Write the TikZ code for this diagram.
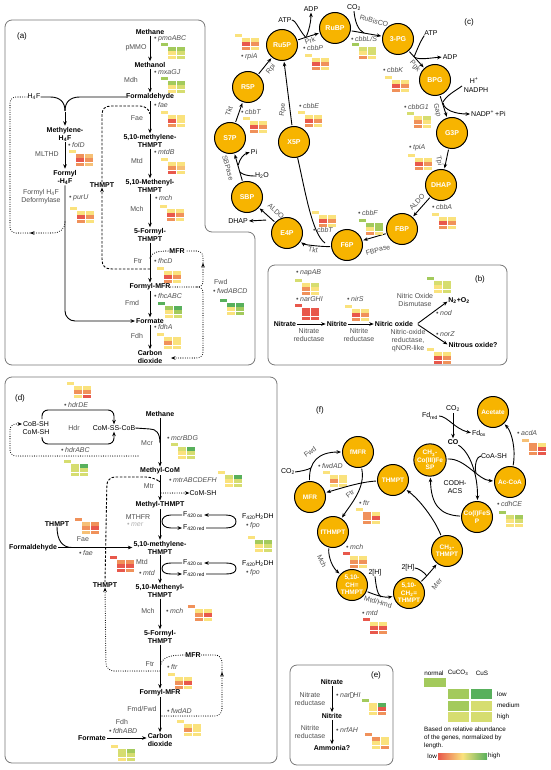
\documentclass[tikz,border=0pt]{standalone}
\usepackage{fontspec}
\setmainfont{Liberation Sans}
\usetikzlibrary{arrows.meta}
\definecolor{cOr}{RGB}{247,180,0}
\definecolor{hR}{RGB}{232,88,76}
\definecolor{hO}{RGB}{240,145,90}
\definecolor{hP}{RGB}{246,192,118}
\definecolor{hY}{RGB}{250,226,125}
\definecolor{hL}{RGB}{214,221,112}
\definecolor{hG}{RGB}{163,202,92}
\definecolor{hD}{RGB}{88,176,92}
\definecolor{pnl}{RGB}{120,120,120}
\definecolor{gtx}{RGB}{80,80,80}
\newcommand\hm[8]{%
  \begin{scope}[shift={(#1)}]
    \fill[#2] (0,0) rectangle (6.5,2.8);
    \fill[#3] (7,4) rectangle (15.2,7.8);
    \fill[#4] (15.8,4) rectangle (24,7.8);
    \fill[#5] (7,8.3) rectangle (15.2,12.1);
    \fill[#6] (15.8,8.3) rectangle (24,12.1);
    \fill[#7] (7,12.6) rectangle (15.2,16.4);
    \fill[#8] (15.8,12.6) rectangle (24,16.4);
  \end{scope}}
\newcommand\gb{\textbullet\hspace{1.5pt}}
\newcommand\sbs[1]{\textsubscript{#1}}
\newcommand\sps[1]{\textsuperscript{#1}}
\newcommand\mg{{\setlength\fboxsep{0pt}\setlength\fboxrule{0.3pt}\color{black!40}\fbox{\rule{0pt}{4.5pt}\hspace{2.6pt}}}}
\begin{document}
\begin{tikzpicture}[x=1pt,y=-1pt,
  lab/.style={inner sep=0pt, font=\fontsize{7}{8}\selectfont, align=center},
  met/.style={lab, font=\fontsize{7}{8}\selectfont\bfseries},
  enz/.style={lab, text=gtx},
  gen/.style={lab, anchor=west, text=gtx, font=\fontsize{7}{8}\selectfont\itshape},
  plab/.style={lab, font=\fontsize{8}{9}\selectfont},
  arr/.style={line width=0.9pt, shorten <=1pt, shorten >=1pt, -{Stealth[length=4.5pt,width=3.6pt]}},
  tip/.style={-{Stealth[length=4.5pt,width=3.6pt]}},
  ln/.style={line width=0.9pt},
  dotl/.style={line width=1.1pt, line cap=round, dash pattern=on 0pt off 2.3pt},
  dashl/.style={line width=0.9pt, dash pattern=on 2.5pt off 1.6pt},
  circ/.style={circle, draw=black, line width=1pt, fill=cOr, minimum size=31pt, inner sep=0pt, text=white, font=\fontsize{7}{7.5}\selectfont\bfseries, align=center},
  circf/.style={circ, font=\fontsize{6.5}{7.3}\selectfont\bfseries},
  pbox/.style={draw=pnl, line width=0.8pt, rounded corners=7pt},
  leg/.style={lab, font=\fontsize{6.3}{7.8}\selectfont},
]
\fill[white] (0,0) rectangle (550,770);
\useasboundingbox (0,0) rectangle (550,770);

% ================= panel (a)
\draw[pbox] (5,20) -- (205,20) -- (205,232) -- (255,232) -- (255,365) -- (5,365) -- cycle;
\node[plab] (aL) at (22,36) {(a)};
\node[met] (aMethane) at (150,32) {Methane};
\node[gen] (aG1) at (154,39) {\gb pmoABC};
\node[enz] (aE1) at (136,48) {pMMO};
\hm{161,43}{hG}{hG}{hG}{hY}{hL}{hY}{hL}
\node[met] (aMethanol) at (150,65) {Methanol};
\node[gen] (aG2) at (154,72) {\gb mxaGJ};
\node[enz] (aE2) at (131,80) {Mdh};
\hm{161,77}{hG}{hG}{hG}{hY}{hL}{hY}{hL}
\node[met] (aForm) at (150,97) {Formaldehyde};
\node[lab] (aH4F) at (34,97) {H\sbs4F};
\node[gen] (aG3) at (154,105) {\gb fae};
\node[enz] (aE3) at (137,118) {Fae};
\hm{161,111}{hY}{hY}{hY}{hR}{hY}{hO}{hY}
\node[met] (aMethylene) at (150,141) {5,10-methylene-\\THMPT};
\node[gen] (aG4) at (154,152) {\gb mtdB};
\node[enz] (aE4) at (137,161) {Mtd};
\hm{161,158}{hY}{hY}{hY}{hO}{hP}{hR}{hY}
\node[met] (aMethenyl) at (150,186) {5,10-Methenyl-\\THMPT};
\node[gen] (aG5) at (155,198) {\gb mch};
\node[enz] (aE5) at (137,209) {Mch};
\hm{160,205}{hY}{hY}{hY}{hR}{hO}{hO}{hY}
\node[met] (aFormylT) at (150,235) {5-Formyl-\\THMPT};
\node[enz] (aE6) at (138,261) {Ftr};
\node[gen] (aG6) at (154,261) {\gb fhcD};
\hm{157,267}{hY}{hY}{hY}{hR}{hO}{hO}{hY}
\node[met] (aMFR) at (177,251) {MFR};
\node[met] (aFormylMFR) at (150,287) {Formyl-MFR};
\node[gen] (aG7) at (154,296) {\gb fhcABC};
\node[enz] (aE7) at (132,303) {Fmd};
\hm{158,302}{hD}{hG}{hD}{hY}{hG}{hY}{hL}
\node[met] (aFormate) at (150,321) {Formate};
\node[gen] (aG8) at (154,327) {\gb fdhA};
\node[enz] (aE8) at (137,336) {Fdh};
\hm{157,333}{hY}{hY}{hY}{hO}{hY}{hY}{hY}
\node[met] (aCO2) at (150,357) {Carbon\\dioxide};
\node[enz,anchor=west] (aE9) at (214,282) {Fwd};
\node[gen] (aG9) at (213,291) {\gb fwdABCD};
\hm{220,299}{hD}{hD}{hD}{hY}{hG}{hY}{hG}
\node[met] (aTHMPT) at (102,185) {THMPT};
\node[met] (aMethyleneH) at (65,134) {Methylene-\\H\sbs4F};
\node[gen] (aG10) at (68,145) {\gb folD};
\node[enz] (aE10) at (47,154) {MLTHD};
\hm{69,150}{hY}{hO}{hP}{hR}{hO}{hO}{hP}
\node[met] (aFormylH) at (65,177) {Formyl\\-H\sbs4F};
\node[enz] (aE11) at (41,197) {Formyl H\sbs4F\\Deformylase};
\node[gen] (aG11) at (69,198) {\gb purU};
\hm{70,207}{hY}{hY}{hY}{hR}{hO}{hO}{hY}

\draw[arr] (aMethane) -- (aMethanol);
\draw[arr] (aMethanol) -- (aForm);
\draw[arr] (aForm) -- (aMethylene);
\draw[arr] (aMethylene) -- (aMethenyl);
\draw[arr] (aMethenyl) -- (aFormylT);
\draw[arr] (aFormylT) -- (aFormylMFR);
\draw[arr] (aFormylMFR) -- (aFormate);
\draw[arr] (aFormate) -- (aCO2);
\coordinate (aJ) at (65,111);
\draw[ln] (aH4F.east) -- (50,97) .. controls (60,97) and (65,102) .. (aJ);
\draw[ln] (aForm.west) -- (80,97) .. controls (70,97) and (65,102) .. (aJ);
\draw[arr] (aJ) -- (aMethyleneH);
\draw[arr] (aMethyleneH) -- (aFormylH);
\draw[arr, rounded corners=10pt] (aFormylH.south) |- (aFormate.west);
\coordinate (aD1) at (65,222);
\coordinate (aD2) at (30,233);
\draw[dotl, tip] (aD1) .. controls (65,229) and (60,233) .. (52,233) -- (aD2);
\draw[dotl, rounded corners=6pt] (aD2) -- (10,233) -- (10,97) -- (aH4F.west);
\coordinate (aFaeM) at (150,114);
\draw[dashl] (aTHMPT.north) -- (102,115) .. controls (102,109) and (105,106) .. (111,106) -- (140,106) .. controls (145,106) and (149,109) .. (aFaeM);
\coordinate (aFtrM) at (150,269);
\draw[dashl, tip] (aFtrM) -- (112,269) .. controls (105,269) and (102,266) .. (102,259) -- (aTHMPT.south);
\coordinate (aFtrM2) at (150,258);
\draw[dotl] (aFtrM2) .. controls (152,252) and (158,251) .. (aMFR.west);
\coordinate (aS) at (197,287);
\draw[dotl] (aFormylMFR.east) -- (aS);
\draw[dotl, tip] (aS) .. controls (201,287) and (203,285) .. (203,281) -- (203,263);
\draw[dotl] (203,263) -- (203,257) .. controls (203,253) and (200,251) .. (196,251) -- (aMFR.east);
\coordinate (aCO2e) at (171,358);
\draw[dotl, tip] (aS) .. controls (201,287) and (203,289) .. (203,293) -- (203,352) .. controls (203,356) and (200,358) .. (196,358) -- (aCO2e);

% ================= panel (c)
\node[plab] (cL) at (469,22) {(c)};
\node[circ] (cRuBP) at (335,28) {RuBP};
\node[circ] (c3PG) at (398,39) {3-PG};
\node[circ] (cBPG) at (435,80) {BPG};
\node[circ] (cG3P) at (452,133) {G3P};
\node[circ] (cDHAP) at (441,185) {DHAP};
\node[circ] (cFBP) at (402,229) {FBP};
\node[circ] (cF6P) at (347,245) {F6P};
\node[circ] (cE4P) at (287,233) {E4P};
\node[circ] (cSBP) at (247,197) {SBP};
\node[circ] (cS7P) at (230,138) {S7P};
\node[circ] (cR5P) at (248,87) {R5P};
\node[circ] (cRu5P) at (282,45) {Ru5P};
\node[circ] (cX5P) at (294,142) {X5P};
\draw[arr] (cRu5P) -- (cRuBP);
\draw[arr] (cRuBP) -- (c3PG);
\draw[arr] (c3PG) -- (cBPG);
\draw[arr] (cBPG) -- (cG3P);
\draw[arr] (cG3P) -- (cDHAP);
\draw[arr] (cDHAP) -- (cFBP);
\draw[arr] (cFBP) -- (cF6P);
\draw[arr] (cF6P) .. controls (325,247) and (305,245) .. (cE4P);
\draw[arr] (cE4P) -- (cSBP);
\draw[arr] (cSBP) -- (cS7P);
\draw[arr] (cS7P) -- (cR5P);
\draw[arr] (cR5P) -- (cRu5P);
\draw[arr] (cX5P) -- (cRu5P);
\coordinate (cTktM) at (325,243);
\draw[ln] (cX5P) .. controls (305,190) and (312,234) .. (cTktM);
\node[lab] (cATP) at (285,20) {ATP};
\node[lab] (cADP) at (311,9) {ADP};
\coordinate (cPrkM) at (306,37.5);
\draw[ln] (cATP.east) .. controls (296,20) and (300,32) .. (cPrkM);
\draw[arr] (cPrkM) .. controls (309,30) and (311,22) .. (cADP.south);
\node[enz, rotate=20] (cE1) at (310,40.5) {Prk};
\node[lab] (cCO2) at (354,8) {CO\sbs2};
\coordinate (cRubM) at (364,33);
\draw[ln] (cCO2.south) .. controls (355,22) and (358,30) .. (cRubM);
\node[enz, rotate=-15] (cE2) at (374,21) {RuBisCO};
\node[lab] (cATP2) at (431,33) {ATP};
\node[lab] (cADP2) at (450,57) {ADP};
\coordinate (cPgkM) at (414,57);
\draw[ln] (cATP2.south west) .. controls (420,42) and (417,50) .. (cPgkM);
\draw[arr] (cPgkM) .. controls (420,60) and (430,58) .. (cADP2.west);
\node[enz, rotate=-50] (cE3) at (415,66) {Pgk};
\node[lab] (cH) at (474,81) {H\sps+};
\node[lab] (cNADPH) at (476,90) {NADPH};
\node[lab, anchor=west] (cNADP) at (471,114) {NADP\sps+\,+Pi};
\coordinate (cNADPs) at (462,86);
\coordinate (cGapM) at (443,102);
\draw[ln] (cNADPs) .. controls (455,91) and (447,95) .. (cGapM);
\draw[arr] (cGapM) .. controls (444,110) and (455,114) .. (cNADP.west);
\node[enz, rotate=-75] (cE4) at (437,110) {Gap};
\node[enz, rotate=-80] (cE5) at (439,161) {Tpi};
\node[enz, rotate=48] (cE6) at (417,202) {ALDO};
\node[enz, rotate=15] (cE7) at (378,250) {FBPase};
\node[enz, rotate=-8] (cE8) at (313,250) {Tkt};
\node[enz, rotate=-42] (cE9) at (276,211) {ALDO};
\node[lab] (cDHAP2) at (238,221) {DHAP};
\coordinate (cAldM) at (267,220);
\draw[arr] (cAldM) -- (cDHAP2.east);
\node[enz, rotate=-74] (cE10) at (228,168) {SBPase};
\node[lab] (cPi) at (254,152) {Pi};
\node[lab] (cH2O) at (262,176) {H\sbs2O};
\coordinate (cSbpM) at (238,166);
\coordinate (cSbpM2) at (240,172);
\draw[arr] (cSbpM) .. controls (240,158) and (244,154) .. (cPi.west);
\draw[ln] (cH2O.west) .. controls (246,176) and (242,174) .. (cSbpM2);
\node[enz, rotate=70] (cE11) at (229,111) {Tkt};
\node[enz, rotate=51] (cE12) at (271,69) {Rpi};
\node[enz, rotate=83] (cE13) at (283,110) {Rpe};
\node[gen] (cG1) at (241,57) {\gb rpiA};
\hm{235,34}{hY}{hY}{hY}{hR}{hO}{hO}{hY}
\node[gen] (cG2) at (303,48.5) {\gb cbbP};
\hm{305,54}{hY}{hY}{hY}{hR}{hO}{hO}{hY}
\node[gen] (cG3) at (351,39) {\gb cbbL/S};
\hm{352,43}{hG}{hL}{hL}{hY}{hL}{hO}{hY}
\node[gen] (cG4) at (383,70) {\gb cbbK};
\hm{385,76}{hY}{hY}{hY}{hR}{hO}{hO}{hY}
\node[gen] (cG5) at (404,107) {\gb cbbG1};
\hm{407,112}{hL}{hY}{hL}{hO}{hY}{hO}{hY}
\node[gen] (cG6) at (409,148) {\gb tpiA};
\hm{408,154}{hY}{hY}{hY}{hR}{hO}{hO}{hY}
\node[gen] (cG7) at (432,207) {\gb cbbA};
\hm{432,213}{hY}{hY}{hY}{hR}{hO}{hO}{hY}
\node[gen] (cG8) at (358,213) {\gb cbbF};
\hm{359,219}{hG}{hG}{hG}{hY}{hG}{hO}{hY}
\node[gen] (cG9) at (313,230) {\gb cbbT};
\hm{312,211}{hY}{hY}{hY}{hR}{hO}{hO}{hY}
\node[gen] (cG10) at (299,106) {\gb cbbE};
\hm{298,111}{hY}{hY}{hY}{hR}{hO}{hO}{hY}
\node[gen] (cG11) at (241,112) {\gb cbbT};
\hm{243,117}{hY}{hY}{hY}{hR}{hO}{hO}{hY}

% ================= panel (b)
\draw[pbox] (268,265) rectangle (507,365);
\node[plab] (bL) at (480,279) {(b)};
\node[met] (bNitrate) at (285,324) {Nitrate};
\node[met] (bNitrite) at (337,324) {Nitrite};
\node[met] (bNO) at (394,324) {Nitric oxide};
\node[met] (bN2) at (459,301) {N\sbs2+O\sbs2};
\node[met] (bN2O) at (473,345) {Nitrous oxide?};
\draw[arr] (bNitrate) -- (bNitrite);
\draw[arr] (bNitrite) -- (bNO);
\coordinate (bSp) at (417,324);
\draw[arr] (bSp) -- (bN2.west);
\draw[arr] (bSp) -- (bN2O.west);
\node[enz] (bE1) at (309,335) {Nitrate\\reductase};
\node[enz] (bE2) at (359,335) {Nitrite\\reductase};
\node[enz] (bE3) at (415,300) {Nitric Oxide\\Dismutase};
\node[enz] (bE4) at (408,341) {Nitric-oxide\\reductase,\\qNOR-like};
\node[gen] (bG1) at (296,273) {\gb napAB};
\hm{295,279}{hL}{hY}{hL}{hO}{hY}{hO}{hY}
\node[gen] (bG2) at (296,299) {\gb narGHI};
\hm{295,304}{hR}{hR}{hR}{hR}{hR}{hR}{hR}
\node[gen] (bG3) at (347,299) {\gb nirS};
\hm{345,305}{hY}{hY}{hY}{hR}{hO}{hO}{hY}
\node[gen] (bG4) at (436,313) {\gb nod};
\hm{427,277}{hG}{hL}{hL}{hY}{hL}{hY}{hL}
\node[gen] (bG5) at (436,334) {\gb norZ};
\hm{427,348}{hY}{hY}{hY}{hR}{hO}{hR}{hO}

% ================= panel (d)
\draw[pbox] (5,377) rectangle (277,763);
\node[plab] (dL) at (20,398) {(d)};
\hm{67,382}{hY}{hY}{hY}{hO}{hO}{hY}{hR}
\node[gen] (dG1) at (64,405) {\gb hdrDE};
\node[lab] (dCoB) at (36,428) {CoB-SH\\CoM-SH};
\node[enz] (dHdr) at (74,428) {Hdr};
\node[lab] (dCoMSS) at (114,428) {CoM-SS-CoB};
\coordinate (dLA) at (42,420);
\coordinate (dLB) at (42,436);
\draw[arr, rounded corners=6pt] (dLA) -- (42,410) -- (114,410) -- (dCoMSS.north);
\draw[arr, rounded corners=6pt] (dLB) -- (42,444) -- (114,444) -- (dCoMSS.south);
\node[gen] (dG2) at (61,450) {\gb hdrABC};
\hm{64,460}{hL}{hL}{hD}{hL}{hL}{hL}{hL}
\coordinate (dDS) at (138,456);
\coordinate (dCoBw) at (22,424);
\draw[dotl, tip, rounded corners=6pt] (dDS) -- (10,456) -- (10,424) -- (dCoBw);
\node[met] (dMethane) at (160,414) {Methane};
\coordinate (dMcrM) at (160,443);
\draw[ln] (dCoMSS.east) -- (150,429) .. controls (156,429) and (160,433) .. (dMcrM);
\node[enz] (dE1) at (147,443) {Mcr};
\node[gen] (dG3) at (167,438) {\gb mcrBDG};
\hm{171,443}{hL}{hL}{hD}{hY}{hL}{hY}{hL}
\node[met] (dMethylCoM) at (160,471) {Methyl-CoM};
\draw[arr] (dMethane) -- (dMethylCoM);
\node[gen] (dG4) at (169,480) {\gb mtrABCDEFH};
\hm{218,471}{hY}{hL}{hD}{hY}{hL}{hY}{hL}
\node[enz] (dE2) at (149,486) {Mtr};
\coordinate (dMtrM) at (161,493);
\node[lab] (dCoMSH) at (203,493) {CoM-SH};
\draw[dotl, tip] (dMtrM) -- (dCoMSH.west);
\node[met] (dMethylTHMPT) at (160,505) {Methyl-THMPT};
\draw[arr] (dMethylCoM) -- (dMethylTHMPT);
\node[enz] (dE3) at (138,517) {MTHFR};
\node[gen, text=black!30] (dG5) at (127,525) {\gb mer};
\node[met] (dMethylene) at (160,547.5) {5,10-methylene-\\THMPT};
\draw[arr] (dMethylTHMPT) -- (dMethylene);
\node[lab, anchor=west] (dFox1) at (183,515) {F\sbs{420 ox}};
\node[lab, anchor=west] (dFred1) at (183,528) {F\sbs{420 red}};
\coordinate (dF1M) at (162,521.5);
\draw[arr] (dFox1.west) -- (171,515) .. controls (165,515) and (162,518) .. (dF1M) .. controls (162,525) and (165,528) .. (171,528) -- (dFred1.west);
\draw[arr] (dFred1.east) -- (226,528) .. controls (233,528) and (236,525) .. (236,521.5) .. controls (236,518) and (233,515) .. (226,515) -- (dFox1.east);
\node[lab] (dF1) at (258,517) {F\sbs{420}H\sbs2DH};
\node[gen] (dG6) at (246,526) {\gb fpo};
\hm{248,536}{hY}{hG}{hG}{hY}{hL}{hY}{hL}
\node[met] (dTHMPTl) at (57,524) {THMPT};
\node[met] (dForm) at (33,547.5) {Formaldehyde};
\draw[arr] (dForm.east) -- (dMethylene.west);
\coordinate (dFaeM) at (72,547.5);
\draw[ln] (dTHMPTl.south) .. controls (57,540) and (62,547.5) .. (dFaeM);
\node[enz] (dE4) at (83,539) {Fae};
\node[gen] (dG7) at (79,553) {\gb fae};
\hm{75,518}{hO}{hP}{hO}{hO}{hR}{hP}{hO}
\node[enz] (dE5) at (142,562) {Mtd};
\node[gen] (dG8) at (139,573) {\gb mtd};
\hm{110,556}{hR}{hO}{hO}{hR}{hR}{hR}{hO}
\node[lab, anchor=west] (dFox2) at (183,563) {F\sbs{420 ox}};
\node[lab, anchor=west] (dFred2) at (183,574) {F\sbs{420 red}};
\coordinate (dF2M) at (162,568.5);
\draw[arr] (dFox2.west) -- (171,563) .. controls (165,563) and (162,565) .. (dF2M) .. controls (162,572) and (165,574) .. (171,574) -- (dFred2.west);
\draw[arr] (dFred2.east) -- (226,574) .. controls (233,574) and (236,572) .. (236,568.5) .. controls (236,565) and (233,563) .. (226,563) -- (dFox2.east);
\node[lab] (dF2) at (258,564) {F\sbs{420}H\sbs2DH};
\node[gen] (dG9) at (246,573) {\gb fpo};
\node[met] (dMethenyl) at (160,591) {5,10-Methenyl-\\THMPT};
\draw[arr] (dMethylene) -- (dMethenyl);
\node[met] (dTHMPT2) at (105,585) {THMPT};
\coordinate (dMtrM2) at (159,481);
\draw[dashl, rounded corners=8pt] (dTHMPT2.north) -- (107,477) -- (154,477) -- (dMtrM2);
\node[enz] (dE6) at (148,611) {Mch};
\node[gen] (dG10) at (166,611) {\gb mch};
\hm{188,605}{hO}{hY}{hY}{hO}{hR}{hO}{hY}
\node[met] (dFormylT) at (160,637) {5-Formyl-\\THMPT};
\draw[arr] (dMethenyl) -- (dFormylT);
\node[enz] (dE7) at (150,664) {Ftr};
\node[gen] (dG11) at (167,667) {\gb ftr};
\hm{168,673}{hY}{hY}{hY}{hO}{hR}{hO}{hY}
\node[met] (dMFR) at (193,655) {MFR};
\node[met] (dFormylMFR) at (160,693) {Formyl-MFR};
\draw[arr] (dFormylT) -- (dFormylMFR);
\node[enz] (dE8) at (142,709) {Fmd/Fwd};
\node[gen] (dG12) at (167,711) {\gb fwdAD};
\hm{177,720}{hY}{hY}{hY}{hO}{hY}{hY}{hY}
\node[met] (dCO2) at (160,740) {Carbon\\dioxide};
\draw[arr] (dFormylMFR) -- (dCO2);
\node[met] (dFormate) at (92,738) {Formate};
\draw[arr] (dFormate.east) -- (dFormate.east -| dCO2.west);
\node[enz] (dE9) at (122,722) {Fdh};
\node[gen] (dG13) at (109,731) {\gb fdhABD};
\hm{111,745}{hY}{hL}{hG}{hL}{hL}{hY}{hL}
\coordinate (dFtrM) at (160,671);
\draw[dotl, tip, rounded corners=8pt] (dFtrM) -- (106,671) -- (dTHMPT2.south);
\coordinate (dFtrM2) at (161,664);
\draw[dotl] (dFtrM2) .. controls (163,657) and (170,655) .. (dMFR.west);
\coordinate (dFmdM) at (162,716);
\draw[dotl, tip, rounded corners=7pt] (dFmdM) -- (222,716) -- (222,672);
\draw[dotl, rounded corners=7pt] (222,672) -- (222,655) -- (dMFR.east);

% ================= panel (f)
\node[plab] (fL) at (320,410) {(f)};
\node[circf] (fFMFR) at (358,452) {fMFR};
\node[circf] (fMFR) at (310,497) {MFR};
\node[circf] (fTHMPT) at (393,480) {THMPT};
\node[circf] (ffTHMPT) at (333,532) {fTHMPT};
\node[circf] (fCH) at (352,585) {5,10-\\CH≡\\THMPT};
\node[circf] (fCH2) at (409,593) {5,10-\\CH\sbs2=\\THMPT};
\node[circf] (fCH3) at (447,551) {CH\sbs3-\\THMPT};
\node[circf] (fCoI) at (477,517) {Co(I)FeS\\P};
\node[circf] (fCoIII) at (430,460) {CH\sbs3-\\Co(III)Fe\\SP};
\node[circf] (fAcCoA) at (510,482) {Ac-CoA};
\node[circf] (fAcetate) at (493,412) {Acetate};
\draw[arr] (fMFR) .. controls (309,462) and (318,452) .. (fFMFR);
\node[lab] (fCO2) at (288,472) {CO\sbs2};
\coordinate (fFwdM) at (311,468);
\draw[ln] (fCO2.east) .. controls (302,471) and (307,470) .. (fFwdM);
\node[enz, rotate=35] (fE1) at (310,452) {Fwd};
\node[gen] (fG1) at (318,466) {\gb fwdAD};
\hm{323,471}{hY}{hY}{hY}{hO}{hY}{hY}{hY}
\draw[arr] (fFMFR) .. controls (366,488) and (350,505) .. (ffTHMPT);
\draw[arr] (fTHMPT) .. controls (360,482) and (342,488) .. (fMFR);
\node[enz, rotate=40] (fE2) at (350,494) {Ftr};
\node[gen] (fG2) at (359,503) {\gb ftr};
\hm{356,508}{hY}{hO}{hY}{hO}{hR}{hO}{hY}
\draw[arr] (ffTHMPT) .. controls (328,552) and (330,565) .. (fCH);
\node[enz, rotate=-65] (fE3) at (322,561) {Mch};
\node[gen] (fG3) at (346,547) {\gb mch};
\hm{343,552}{hR}{hY}{hY}{hO}{hO}{hO}{hY}
\draw[arr] (fCH) .. controls (375,595) and (385,598) .. (fCH2);
\node[lab] (f2H1) at (375,573) {2[H]};
\coordinate (fMtdM) at (381,597);
\draw[ln] (f2H1.south) .. controls (376,585) and (377,594) .. (fMtdM);
\node[enz, rotate=-15] (fE4) at (378,602) {Mtd/Hmd};
\node[gen] (fG4) at (362,613) {\gb mtd};
\hm{363,618}{hR}{hY}{hY}{hR}{hR}{hR}{hO}
\draw[arr] (fCH2) .. controls (425,578) and (432,570) .. (fCH3);
\node[lab] (f2H2) at (408,568) {2[H]};
\coordinate (fMerM) at (427,576);
\draw[ln] (f2H2.east) .. controls (418,568) and (424,572) .. (fMerM);
\node[enz, rotate=50] (fE5) at (437,584) {Mer};
\draw[arr] (fCH3) .. controls (435,520) and (420,500) .. (fTHMPT);
\draw[arr] (fCoI) .. controls (440,515) and (431,505) .. (fCoIII);
\draw[arr] (fCoIII) .. controls (465,458) and (478,480) .. (fAcCoA);
\node[lab] (fCoASH) at (494,456) {CoA-SH};
\coordinate (fAcM) at (476,473);
\draw[ln] (fCoASH.west) .. controls (477,456) and (474,465) .. (fAcM);
\node[met] (fCO) at (453,442) {CO};
\node[lab] (fCO2b) at (453,409) {CO\sbs2};
\node[lab] (fFdred) at (430,416) {Fd\sbs{red}};
\node[lab] (fFdox) at (479,433) {Fd\sbs{ox}};
\draw[arr] (fCO2b) -- (fCO);
\draw[arr] (fFdred.east) .. controls (447,416) and (455,429) .. (fFdox.west);
\draw[arr] (fCO) .. controls (470,452) and (478,475) .. (fCoI);
\node[lab] (fCODH) at (455,487) {CODH-\\ACS};
\draw[arr] (fAcCoA) .. controls (516,450) and (512,432) .. (fAcetate);
\node[gen] (fG5) at (517,433) {\gb acdA};
\hm{522,439}{hP}{hO}{hY}{hO}{hR}{hO}{hR}
\node[gen] (fG6) at (497,504) {\gb cdhCE};
\hm{499,511}{hG}{hL}{hG}{hY}{hL}{hY}{hY}

% ================= panel (e)
\draw[pbox] (290,665) rectangle (393,765);
\node[plab] (eL) at (376,675) {(e)};
\node[met] (eNitrate) at (332,682) {Nitrate};
\node[met] (eNitrite) at (332,716) {Nitrite};
\node[met] (eAmmonia) at (332,748) {Ammonia?};
\draw[arr] (eNitrate) -- (eNitrite);
\draw[arr] (eNitrite) -- (eAmmonia);
\node[enz] (eE1) at (310,699) {Nitrate\\reductase};
\node[enz] (eE2) at (310,732) {Nitrite\\reductase};
\node[gen] (eG1) at (336,695) {\gb nar\mg HI};
\hm{362,699}{hG}{hY}{hD}{hY}{hR}{hY}{hO}
\node[gen] (eG2) at (336,730) {\gb nrfAH};
\hm{365,733}{hO}{hO}{hY}{hY}{hY}{hY}{hO}

% ================= legend
\node[leg] (kN) at (434,673) {normal};
\node[leg] (kC) at (458,673) {CuCO\sbs3};
\node[leg] (kS) at (482,673) {CuS};
\fill[hG] (424,678) rectangle (446,687);
\fill[hG] (448,689) rectangle (469,699);
\fill[hD] (471,689) rectangle (492,699);
\fill[hG] (448,700.5) rectangle (469,710.5);
\fill[hL] (471,700.5) rectangle (492,710.5);
\fill[hL] (448,712) rectangle (469,722);
\fill[hL] (471,712) rectangle (492,722);
\node[leg, anchor=west] (kLow) at (497,694) {low};
\node[leg, anchor=west] (kMed) at (497,705.5) {medium};
\node[leg, anchor=west] (kHigh) at (497,717) {high};
\node[leg, anchor=north west, align=left] (kTxt) at (424,727) {Based on relative abundance\\of the genes, normalized by\\length.};
\node[leg, anchor=east] (kLo) at (437,756) {low};
\shade[left color=hR, right color=hD, middle color=hY] (438,753) rectangle (487,759);
\node[leg, anchor=west] (kHi) at (488,756) {high};
\end{tikzpicture}
\end{document}
